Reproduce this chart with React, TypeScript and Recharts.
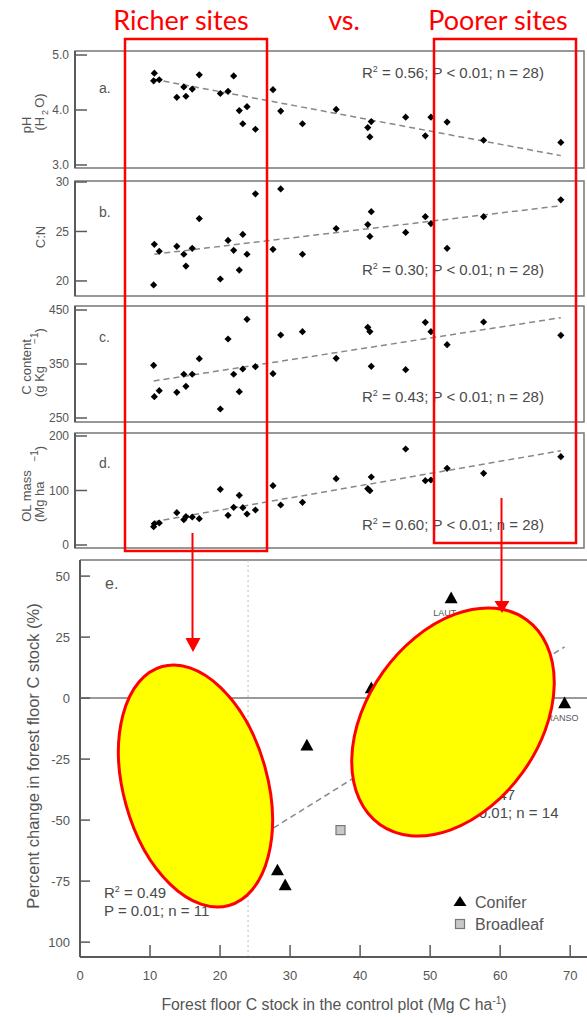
import React from 'react';
import { ScatterChart, Scatter, XAxis, YAxis, ReferenceLine, ReferenceArea } from 'recharts';

const FONT = '"Liberation Sans", Arial, Helvetica, sans-serif';
const TXT = '#555';
const AXC = '#5a5a5a';
const RED = '#ff0000';

// Forest floor C stock in the control plot (Mg C ha-1) for the 28 sites (panels a-d)
const siteStock = [11.2, 11.3, 12.0, 14.5, 15.5, 15.8, 16.7, 17.7, 20.7, 21.8, 22.6, 23.4, 23.9, 24.5, 25.7, 28.2, 29.3, 32.4, 37.2, 41.7, 42.0, 42.2, 47.1, 49.9, 50.7, 53.0, 58.2, 69.2];
const phValues = [4.53, 4.67, 4.55, 4.23, 4.42, 4.25, 4.38, 4.64, 4.30, 4.34, 4.62, 3.99, 3.75, 4.06, 3.65, 4.37, 3.98, 3.75, 4.01, 3.68, 3.51, 3.79, 3.87, 3.53, 3.87, 3.78, 3.45, 3.41];
const cnValues = [19.6, 23.7, 23.0, 23.5, 22.7, 21.5, 23.3, 26.3, 20.2, 24.1, 23.1, 21.1, 24.7, 22.7, 28.8, 23.2, 29.3, 22.7, 25.3, 25.7, 24.5, 27.0, 24.9, 26.5, 25.8, 23.3, 26.5, 28.2];
const cContentValues = [347.6, 289.5, 300.6, 297.5, 331, 308.7, 331, 359.9, 266.7, 396.3, 331, 298.8, 340.7, 432.7, 345, 332, 403.7, 409.9, 360.5, 418, 410, 345.7, 339.5, 427.2, 409.9, 385.7, 427.8, 403.1];
const olMassValues = [33.6, 39, 40.4, 59.3, 46.4, 52, 51.4, 48.3, 102.2, 54.5, 69.1, 91.1, 68.5, 56.9, 64.2, 108.9, 73.4, 78.3, 121.7, 103.4, 99.6, 124.8, 176.1, 118, 119.3, 140.7, 131.6, 162];

const phFit = [{ x: 11.2, y: 4.56 }, { x: 69.2, y: 3.17 }];
const cnFit = [{ x: 11.3, y: 22.7 }, { x: 69.2, y: 27.6 }];
const cContentFit = [{ x: 11.2, y: 318.5 }, { x: 69.2, y: 435.8 }];
const olMassFit = [{ x: 11.2, y: 42.8 }, { x: 69.2, y: 173 }];

const topXTicks = [10, 20, 30, 40, 50, 60, 70];
const phTicks = [3, 4, 5];
const cnTicks = [20, 25, 30];
const cContentTicks = [250, 350, 450];
const olMassTicks = [0, 100, 200];

const statA = ['0.56', 'P < 0.01; n = 28)'];
const statB = ['0.30', 'P < 0.01; n = 28)'];
const statC = ['0.43', 'P < 0.01; n = 28)'];
const statD = ['0.60', 'P < 0.01; n = 28)'];

// Panel e
const coniferStock = [28.2, 29.3, 32.4, 41.6, 53.0, 69.2];
const coniferChange = [-70.5, -76.6, -19.3, 4.1, 41.0, -2.0];
const coniferSite = ['', '', '', '', 'LAUT', 'RANSO'];
const broadleafStock = [37.2];
const broadleafChange = [-54.1];
const eFit = [{ x: 24, y: -59.7 }, { x: 69.2, y: 21 }];
const eXTicks = [0, 10, 20, 30, 40, 50, 60, 70];
const eYTicks = [-100, -75, -50, -25, 0, 25, 50];
const thresholdStock = 24;

const TOP_X_MAX = 72.5;

function Diamond(props: any) {
  const { cx, cy } = props;
  if (cx == null || cy == null) return null;
  const r = 3.6;
  return <polygon points={`${cx},${cy - r} ${cx + r},${cy} ${cx},${cy + r} ${cx - r},${cy}`} fill="#000" />;
}

function Tri(props: any) {
  const { cx, cy, payload } = props;
  if (cx == null || cy == null) return null;
  const s = 6.5;
  return (
    <g>
      <polygon points={`${cx},${cy - s} ${cx + s},${cy + s * 0.8} ${cx - s},${cy + s * 0.8}`} fill="#000" />
      {payload && payload.site ? (
        <text x={cx - 18} y={cy + 18} fontSize={9} fill={TXT} fontFamily={FONT}>{payload.site}</text>
      ) : null}
    </g>
  );
}

function Sq(props: any) {
  const { cx, cy } = props;
  if (cx == null || cy == null) return null;
  const s = 4.5;
  return <rect x={cx - s} y={cy - s} width={2 * s} height={2 * s} fill="#c8c8c8" stroke="#777" strokeWidth={1.2} />;
}

type PanelProps = {
  plotTop: number;
  plotBottom: number;
  yDomain: [number, number];
  yTicks: number[];
  fmt: (v: number) => string;
  values: number[];
  fit: { x: number; y: number }[];
  title: (props: any) => React.ReactNode;
};

const M = 8;

function TopPanel({ plotTop, plotBottom, yDomain, yTicks, fmt, values, fit, title }: PanelProps) {
  const h = plotBottom - plotTop + 2 * M;
  const data = siteStock.map((x, i) => ({ x, y: values[i] }));
  return (
    <div style={{ position: 'absolute', left: 0, top: plotTop - M, width: 587, height: h }}>
      <ScatterChart width={587} height={h} margin={{ top: M, right: 3, bottom: M, left: 0 }}>
        <ReferenceArea x1={0} x2={TOP_X_MAX} y1={yDomain[0]} y2={yDomain[1]} fill="none" stroke="#777" strokeWidth={1.5} />
        <XAxis
          type="number"
          dataKey="x"
          domain={[0, TOP_X_MAX]}
          ticks={topXTicks}
          interval={0}
          height={0}
          tickSize={-10}
          tickFormatter={() => ''}
          axisLine={{ stroke: AXC, strokeWidth: 2 }}
          tickLine={{ stroke: AXC, strokeWidth: 1.5 }}
          allowDataOverflow
        />
        <YAxis
          type="number"
          dataKey="y"
          domain={yDomain}
          ticks={yTicks}
          interval={0}
          width={75}
          tickSize={-12}
          tickMargin={18}
          tickFormatter={fmt}
          tick={{ fill: TXT, fontSize: 12, fontFamily: FONT }}
          axisLine={{ stroke: AXC, strokeWidth: 2 }}
          tickLine={{ stroke: AXC, strokeWidth: 1.5 }}
          label={{ content: title }}
          allowDataOverflow
        />
        <ReferenceLine segment={fit} stroke="#888" strokeWidth={1.5} strokeDasharray="6 4" />
        <Scatter data={data} shape={Diamond} isAnimationActive={false} />
      </ScatterChart>
    </div>
  );
}

const rot = (x: number, y: number) => `rotate(-90 ${x} ${y})`;
// title coordinates are relative to each panel chart (chart top = plotTop - M)
const titleA = () => (
  <g fill={TXT} fontFamily={FONT} fontSize={13}>
    <text x={31} y={82} transform={rot(31, 82)} textAnchor="middle">pH</text>
    <text x={44} y={69} transform={rot(44, 69)} textAnchor="middle">
      (H<tspan dx={2} dy={4} fontSize={9}>2</tspan>
      <tspan dx={2} dy={-4}>O)</tspan>
    </text>
  </g>
);
const titleB = () => (
  <g fill={TXT} fontFamily={FONT} fontSize={13}>
    <text x={45} y={64} transform={rot(45, 64)} textAnchor="middle">C:N</text>
  </g>
);
const titleC = () => (
  <g fill={TXT} fontFamily={FONT} fontSize={13}>
    <text x={31} y={69} transform={rot(31, 69)} textAnchor="middle">C content</text>
    <text x={44} y={99} transform={rot(44, 99)} textAnchor="start">
      (g Kg
      <tspan dx={22} dy={-6} fontSize={10}>−1</tspan>
      <tspan dy={6}>)</tspan>
    </text>
  </g>
);
const titleD = () => (
  <g fill={TXT} fontFamily={FONT} fontSize={13}>
    <text x={31} y={71} transform={rot(31, 71)} textAnchor="middle">OL mass</text>
    <text x={44} y={97} transform={rot(44, 97)} textAnchor="start">
      (Mg ha
      <tspan dx={20} dy={-6} fontSize={10}>−1</tspan>
      <tspan dy={6}>)</tspan>
    </text>
  </g>
);

const titleEY = () => (
  <g fill={TXT} fontFamily={FONT} fontSize={16.5}>
    <text x={39} y={206} transform={rot(39, 206)} textAnchor="middle">Percent change in forest floor C stock (%)</text>
  </g>
);
const titleEX = () => (
  <g fill={TXT} fontFamily={FONT} fontSize={15.8}>
    <text x={334} y={460} textAnchor="middle">
      Forest floor C stock in the control plot (Mg C ha
      <tspan dy={-6} fontSize={10}>-1</tspan>
      <tspan dy={6}>)</tspan>
    </text>
  </g>
);

function PanelE() {
  const conifer = coniferStock.map((x, i) => ({ x, y: coniferChange[i], site: coniferSite[i] }));
  const broadleaf = broadleafStock.map((x, i) => ({ x, y: broadleafChange[i] }));
  const yDom: [number, number] = [-106.1, 56.6];
  return (
    <div style={{ position: 'absolute', left: 0, top: 550, width: 587, height: 467 }}>
      <ScatterChart width={587} height={467} margin={{ top: 10, right: 0, bottom: 0, left: 0 }}>
        <ReferenceLine y={yDom[1]} stroke="#777" strokeWidth={1.5} />
        <ReferenceLine x={thresholdStock} stroke="#bbb" strokeWidth={1} strokeDasharray="2 3" />
        <ReferenceLine y={0} stroke="#777" strokeWidth={1.5} />
        <XAxis
          type="number"
          dataKey="x"
          domain={[0, 72.4]}
          ticks={eXTicks}
          interval={0}
          height={60}
          tickSize={-12}
          tickMargin={26}
          tick={{ fill: TXT, fontSize: 13, fontFamily: FONT }}
          axisLine={{ stroke: AXC, strokeWidth: 2 }}
          tickLine={{ stroke: AXC, strokeWidth: 1.5 }}
          label={{ content: titleEX }}
          allowDataOverflow
        />
        <YAxis
          type="number"
          dataKey="y"
          domain={yDom}
          ticks={eYTicks}
          interval={0}
          width={80}
          tickSize={-10}
          tickMargin={20}
          tickFormatter={(v: number) => (v === -100 ? '100' : String(v))}
          tick={{ fill: TXT, fontSize: 13, fontFamily: FONT }}
          axisLine={{ stroke: AXC, strokeWidth: 2 }}
          tickLine={{ stroke: AXC, strokeWidth: 1.5 }}
          label={{ content: titleEY }}
          allowDataOverflow
        />
        <ReferenceLine segment={eFit} stroke="#888" strokeWidth={1.5} strokeDasharray="6 4" />
        <Scatter data={broadleaf} shape={Sq} isAnimationActive={false} />
        <Scatter data={conifer} shape={Tri} isAnimationActive={false} />
      </ScatterChart>
    </div>
  );
}

function R2({ x, y, r2, rest }: { x: number; y: number; r2: string; rest?: string }) {
  return (
    <text x={x} y={y} fontSize={15} fill="#4a4a4a" fontFamily={FONT}>
      R<tspan dy={-6} fontSize={9}>2</tspan>
      <tspan dy={6}>{rest ? ` = ${r2}; ${rest}` : ` = ${r2}`}</tspan>
    </text>
  );
}

function Overlay() {
  return (
    <svg width={587} height={1017} style={{ position: 'absolute', left: 0, top: 0, pointerEvents: 'none' }}>
      <g fill={TXT} fontFamily={FONT} fontSize={14}>
        <text x={99} y={93}>a.</text>
        <text x={99} y={217}>b.</text>
        <text x={99} y={342}>c.</text>
        <text x={99} y={468}>d.</text>
        <text x={105} y={589} fontSize={16}>e.</text>
      </g>
      <R2 x={362} y={78} r2={statA[0]} rest={statA[1]} />
      <R2 x={362} y={275} r2={statB[0]} rest={statB[1]} />
      <R2 x={362} y={402} r2={statC[0]} rest={statC[1]} />
      <R2 x={362} y={530} r2={statD[0]} rest={statD[1]} />
      <R2 x={104} y={898} r2="0.49" />
      <text x={104} y={916} fontSize={15} fill="#4a4a4a" fontFamily={FONT}>P = 0.01; n = 11</text>
      <R2 x={453} y={800} r2="0.47" />
      <text x={452} y={818} fontSize={15} fill="#4a4a4a" fontFamily={FONT}>P &lt; 0.01; n = 14</text>
      {/* legend */}
      <polygon points="460,896 466.5,906 453.5,906" fill="#000" />
      <text x={475} y={908} fontSize={16} fill={TXT} fontFamily={FONT}>Conifer</text>
      <rect x={455.5} y={919.5} width={9} height={9} fill="#c8c8c8" stroke="#777" strokeWidth={1.2} />
      <text x={475} y={930} fontSize={16} fill={TXT} fontFamily={FONT}>Broadleaf</text>
      {/* red boxes */}
      <rect x={125} y={39} width={142} height={512} fill="none" stroke={RED} strokeWidth={2.5} />
      <rect x={434} y={39} width={142} height={504} fill="none" stroke={RED} strokeWidth={2.5} />
      {/* ellipses */}
      <ellipse cx={195.5} cy={786} rx={72} ry={124} transform="rotate(-15.6 195.5 786)" fill="#ffff00" stroke={RED} strokeWidth={3} />
      <ellipse cx={453} cy={722} rx={86} ry={126} transform="rotate(35.5 453 722)" fill="#ffff00" stroke={RED} strokeWidth={3} />
      {/* arrows */}
      <line x1={192.5} y1={533} x2={192.5} y2={640} stroke={RED} strokeWidth={2} />
      <polygon points="185.5,638 200.5,638 193,652" fill={RED} />
      <line x1={501.5} y1={498} x2={501.5} y2={604} stroke={RED} strokeWidth={2} />
      <polygon points="494.5,601 509.5,601 502,613" fill={RED} />
      {/* titles */}
      <g fill={RED} fontFamily="Lato, 'Open Sans', sans-serif" fontSize={27}>
        <text x={181} y={30} textAnchor="middle">Richer sites</text>
        <text x={344} y={30} textAnchor="middle">vs.</text>
        <text x={498} y={30} textAnchor="middle">Poorer sites</text>
      </g>
    </svg>
  );
}

export default function App() {
  return (
    <div style={{ position: 'absolute', left: 0, top: 0, width: 587, height: 1017, background: '#fff', overflow: 'hidden' }}>
      <TopPanel plotTop={51} plotBottom={168} yDomain={[2.945, 5.073]} yTicks={phTicks} fmt={(v) => v.toFixed(1)} values={phValues} fit={phFit} title={titleA} />
      <TopPanel plotTop={181} plotBottom={296} yDomain={[18.48, 30.1]} yTicks={cnTicks} fmt={(v) => String(v)} values={cnValues} fit={cnFit} title={titleB} />
      <TopPanel plotTop={306} plotBottom={422} yDomain={[242.6, 457.4]} yTicks={cContentTicks} fmt={(v) => String(v)} values={cContentValues} fit={cContentFit} title={titleC} />
      <TopPanel plotTop={433} plotBottom={548} yDomain={[-5.5, 205.5]} yTicks={olMassTicks} fmt={(v) => String(v)} values={olMassValues} fit={olMassFit} title={titleD} />
      <PanelE />
      <Overlay />
    </div>
  );
}
